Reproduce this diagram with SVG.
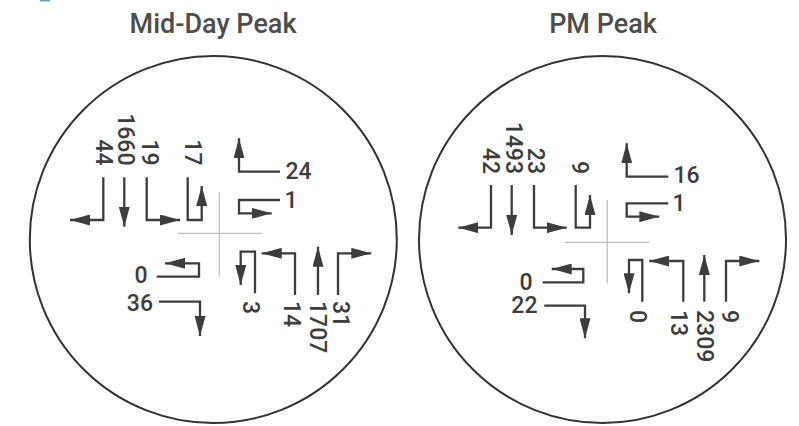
<svg xmlns="http://www.w3.org/2000/svg" width="799" height="426" viewBox="0 0 799 426">
<defs>
<marker id="ah" viewBox="0 0 20 11" refX="20" refY="5.5" markerWidth="20" markerHeight="11" markerUnits="userSpaceOnUse" orient="auto">
<path d="M0,0 L20,5.5 L0,11 z" fill="#3d3d3d"/>
</marker>
</defs>
<style>
.ring{fill:none;stroke:#333;stroke-width:2}
.cross{stroke:#bdbdbd;stroke-width:1.2;fill:none}
.mv{fill:none;stroke:#3d3d3d;stroke-width:2.3;marker-end:url(#ah)}
.num{font-family:Roboto,"Liberation Sans",sans-serif;font-size:23px;font-weight:500;fill:#3d3d3d}
.title{font-family:Roboto,"Liberation Sans",sans-serif;font-size:27px;font-weight:500;fill:#4d4d4d;text-anchor:middle}
.e{text-anchor:end}
</style>
<rect x="40" y="0" width="10" height="1.5" fill="#6a9fd4"/>
<g id="midday">
<text class="title" x="213" y="33">Mid-Day Peak</text>
<circle class="ring" cx="213.3" cy="239.5" r="183.5"/>
<path class="cross" d="M177.7,233.3 H261.7 M219.3,192.3 V275.7"/>
<g id="md-connectors">
<path class="mv" d="M103.3,177.3 V220 H70"/>
<path class="mv" d="M124.3,177.3 V226.7"/>
<path class="mv" d="M146.7,177.3 V220 H180"/>
<path class="mv" d="M187.7,177.3 V220 H201.7 V186"/>
<path class="mv" d="M280,171.7 H239 V138.3"/>
<path class="mv" d="M280,200 H239 V213.3 H271.7"/>
<path class="mv" d="M156.7,276.7 H199 V263.3 H165"/>
<path class="mv" d="M159,301.7 H200 V336"/>
<path class="mv" d="M255,293.3 V251.7 H240.7 V285"/>
<path class="mv" d="M295,295 V253.3 H261.7"/>
<path class="mv" d="M318,295 V246.7"/>
<path class="mv" d="M338,295 V253.3 H371.3"/>
</g>
<g id="md-labels">
<text class="num e" transform="translate(95.5,165.5) rotate(90)">44</text>
<text class="num e" transform="translate(118.3,165.5) rotate(90)">1660</text>
<text class="num e" transform="translate(141.7,165.5) rotate(90)">19</text>
<text class="num e" transform="translate(184.5,165.5) rotate(90)">17</text>
<text class="num" x="285.5" y="178.5">24</text>
<text class="num" x="284.5" y="207.5">1</text>
<text class="num e" x="147.5" y="283.3">0</text>
<text class="num e" x="153" y="310.5">36</text>
<text class="num" transform="translate(242.7,301) rotate(90)">3</text>
<text class="num" transform="translate(284.3,301) rotate(90)">14</text>
<text class="num" transform="translate(310,301) rotate(90)">1707</text>
<text class="num" transform="translate(333.3,301) rotate(90)">31</text>
</g>
</g>
<g id="pm">
<text class="title" x="603" y="33">PM Peak</text>
<circle class="ring" cx="602.5" cy="239.5" r="183.5"/>
<path class="cross" d="M565,242.3 H649.3 M607.3,200 V283.3"/>
<g id="pm-connectors">
<path class="mv" d="M491,185 V227.7 H458.3"/>
<path class="mv" d="M511.7,185 V235"/>
<path class="mv" d="M534,185 V227.7 H566.7"/>
<path class="mv" d="M575.7,185 V227.7 H590 V195"/>
<path class="mv" d="M668.3,176.7 H626.7 V143.3"/>
<path class="mv" d="M668.3,203.3 H626.7 V216.7 H659.3"/>
<path class="mv" d="M542.7,282.3 H583.3 V269 H551.7"/>
<path class="mv" d="M544.3,305.7 H585 V338.3"/>
<path class="mv" d="M642.3,301.7 V260 H629 V293.3"/>
<path class="mv" d="M683.3,301.7 V261 H649.3"/>
<path class="mv" d="M704.3,301.7 V255"/>
<path class="mv" d="M726,301.7 V261 H759.3"/>
</g>
<g id="pm-labels">
<text class="num e" transform="translate(483.3,174) rotate(90)">42</text>
<text class="num e" transform="translate(506,174) rotate(90)">1493</text>
<text class="num e" transform="translate(528.3,174) rotate(90)">23</text>
<text class="num e" transform="translate(572.3,174) rotate(90)">9</text>
<text class="num" x="673.5" y="183.3">16</text>
<text class="num" x="672.6" y="210.7">1</text>
<text class="num e" x="532.5" y="290">0</text>
<text class="num e" x="537.5" y="313.3">22</text>
<text class="num" transform="translate(630,310) rotate(90)">0</text>
<text class="num" transform="translate(671,310) rotate(90)">13</text>
<text class="num" transform="translate(696.7,310) rotate(90)">2309</text>
<text class="num" transform="translate(721.7,310) rotate(90)">9</text>
</g>
</g>
</svg>
